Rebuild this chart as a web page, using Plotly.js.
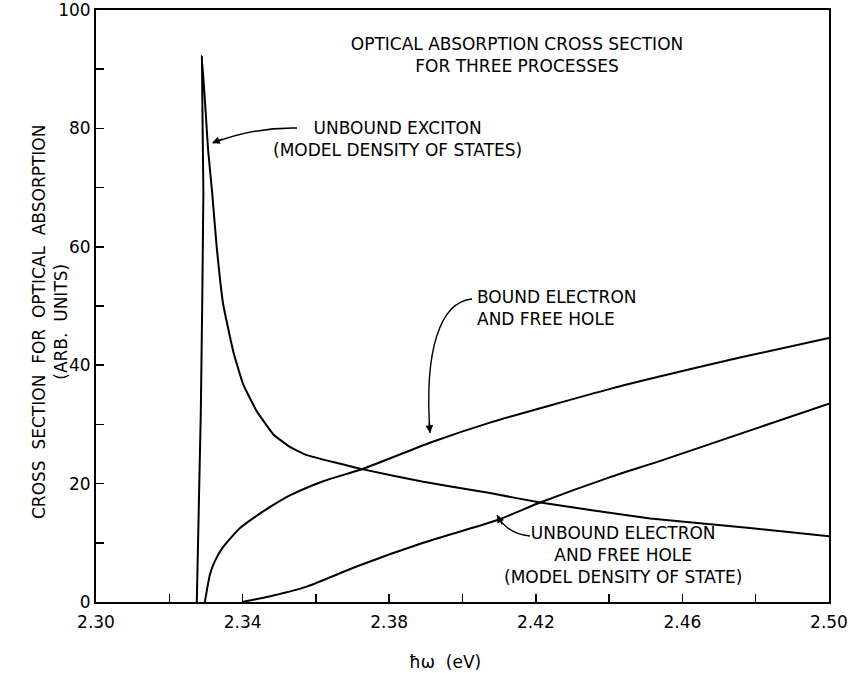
<!DOCTYPE html>
<html>
<head>
<meta charset="utf-8">
<script src="https://cdn.plot.ly/plotly-3.0.1.min.js"></script>
<style>html,body{margin:0;padding:0;background:#fff;}#chart{width:852px;height:673px;}</style>
</head>
<body>
<div id="chart"></div>
<script>
// ---- data ----
const excitonX = [2.3275, 2.3286, 2.3293, 2.3289, 2.3306, 2.3317, 2.3329, 2.3347, 2.3375, 2.3402, 2.3439, 2.3484, 2.3529, 2.3575, 2.3729, 2.3893, 2.4075, 2.4212, 2.4512, 2.4784, 2.5000];
const excitonY = [0, 32.2, 69.1, 92.2, 76.3, 69.1, 60.2, 50.3, 42.2, 36.7, 32.2, 28.3, 26.2, 24.8, 22.4, 20.3, 18.4, 16.8, 14.1, 12.5, 11.1];

const boundX = [2.3297, 2.3302, 2.3311, 2.3325, 2.3347, 2.3393, 2.3439, 2.3484, 2.3529, 2.3620, 2.3729, 2.3911, 2.4075, 2.4403, 2.4512, 2.4757, 2.5000];
const boundY = [0, 1.8, 4.7, 7.0, 9.3, 12.5, 14.6, 16.4, 18.0, 20.4, 22.5, 26.9, 30.3, 36.0, 37.7, 41.3, 44.6];

const unboundX = [2.3398, 2.3439, 2.3484, 2.3575, 2.3711, 2.3893, 2.4093, 2.4212, 2.4403, 2.4548, 2.5000];
const unboundY = [0, 0.5, 1.1, 2.6, 6.0, 10.0, 13.8, 16.8, 21.1, 24.0, 33.5];

const xTickVals = [2.30, 2.34, 2.38, 2.42, 2.46, 2.50];
const xTickText = ['2.30', '2.34', '2.38', '2.42', '2.46', '2.50'];
const yTickVals = [0, 20, 40, 60, 80, 100];

const titleText = 'OPTICAL ABSORPTION CROSS SECTION<br>FOR THREE PROCESSES';
const yTitleText = 'CROSS\u00a0 SECTION\u00a0 FOR\u00a0 OPTICAL\u00a0 ABSORPTION<br>(ARB.\u00a0 UNITS)';
const xTitleText = 'ħω\u00a0 (eV)';
const label1 = 'UNBOUND EXCITON<br>(MODEL DENSITY OF STATES)';
const label2 = 'BOUND ELECTRON<br>AND FREE HOLE';
const label3 = 'UNBOUND ELECTRON<br>AND FREE HOLE<br>(MODEL DENSITY OF STATE)';

// ---- layout geometry ----
const W = 852, H = 673;
const M = {l: 96, r: 23, t: 10, b: 71};
const XR = [2.30, 2.50], YR = [0, 100];
const pw = W - M.l - M.r, ph = H - M.t - M.b;
const X = px => XR[0] + (px - M.l) / pw * (XR[1] - XR[0]);
const Y = py => YR[0] + (H - M.b - py) / ph * (YR[1] - YR[0]);
const P = (px, py) => X(px) + ',' + Y(py);

const FONT = 'DejaVu Sans, Arial, sans-serif';
const line = {color: '#000', width: 2};

const traces = [
  {x: excitonX, y: excitonY, mode: 'lines', line: Object.assign({shape: 'spline', smoothing: 0.35}, line), name: 'Unbound exciton'},
  {x: boundX, y: boundY, mode: 'lines', line: Object.assign({shape: 'spline', smoothing: 0.6}, line), name: 'Bound electron and free hole'},
  {x: unboundX, y: unboundY, mode: 'lines', line: Object.assign({shape: 'spline', smoothing: 0.6}, line), name: 'Unbound electron and free hole'}
];

const tf = {family: FONT, size: 17, color: '#000'};
const arrowStyle = {showarrow: true, arrowhead: 2, arrowsize: 1.1, arrowwidth: 1.4, arrowcolor: '#000', standoff: 0, text: ''};

const layout = {
  width: W, height: H,
  margin: M,
  paper_bgcolor: '#fff', plot_bgcolor: '#fff',
  showlegend: false,
  font: tf,
  title: {
    text: titleText, font: {family: FONT, size: 17, color: '#000'},
    xref: 'paper', x: (517 - M.l) / pw, xanchor: 'center',
    yref: 'container', y: 1 - 50 / H, yanchor: 'middle'
  },
  xaxis: {
    range: XR, showgrid: false, zeroline: false,
    showline: true, linecolor: '#000', linewidth: 2, mirror: true,
    tickvals: xTickVals, ticktext: xTickText,
    ticks: 'inside', ticklen: 8, tickwidth: 1.5, tickcolor: '#000',
    minor: {dtick: 0.02, tick0: 2.30, ticks: 'inside', ticklen: 8, tickwidth: 1.5, tickcolor: '#000', showgrid: false},
    tickfont: tf, ticklabeloverflow: 'allow', ticklabelstandoff: 4
  },
  yaxis: {
    range: YR, showgrid: false, zeroline: false,
    showline: true, linecolor: '#000', linewidth: 2, mirror: true,
    tickvals: yTickVals,
    ticks: 'inside', ticklen: 8, tickwidth: 1.5, tickcolor: '#000',
    minor: {dtick: 10, tick0: 0, ticks: 'inside', ticklen: 8, tickwidth: 1.5, tickcolor: '#000', showgrid: false},
    tickfont: tf, ticklabeloverflow: 'allow'
  },
  annotations: [
    {text: yTitleText, xref: 'paper', yref: 'paper', x: (50 - M.l) / pw, y: (H - M.b - 322) / ph,
     xanchor: 'center', yanchor: 'middle', textangle: -90, showarrow: false, font: tf},
    {text: xTitleText, xref: 'paper', yref: 'paper', x: (445 - M.l) / pw, y: (H - M.b - 662) / ph,
     xanchor: 'center', yanchor: 'middle', showarrow: false, font: tf},
    {text: label1, xref: 'x', yref: 'y', x: X(397), y: Y(139), xanchor: 'center', yanchor: 'middle', align: 'center', showarrow: false, font: tf},
    {text: label2, xref: 'x', yref: 'y', x: X(475), y: Y(308), xanchor: 'left', yanchor: 'middle', align: 'left', showarrow: false, font: tf},
    {text: label3, xref: 'x', yref: 'y', x: X(623), y: Y(555), xanchor: 'center', yanchor: 'middle', align: 'center', showarrow: false, font: tf},
    Object.assign({xref: 'x', yref: 'y', x: X(212), y: Y(143), ax: 12, ay: -4.6}, arrowStyle),
    Object.assign({xref: 'x', yref: 'y', x: X(430), y: Y(433), ax: -1, ay: -12}, arrowStyle),
    Object.assign({xref: 'x', yref: 'y', x: X(497), y: Y(515), ax: 6, ay: 11}, arrowStyle)
  ],
  shapes: [
    {type: 'path', xref: 'x', yref: 'y', line: {color: '#000', width: 1.4},
     path: 'M' + P(297, 128) + ' Q' + P(255, 127) + ' ' + P(213, 143)},
    {type: 'path', xref: 'x', yref: 'y', line: {color: '#000', width: 1.4},
     path: 'M' + P(472, 299) + ' C' + P(440, 302) + ' ' + P(424, 350) + ' ' + P(430, 433)},
    {type: 'path', xref: 'x', yref: 'y', line: {color: '#000', width: 1.4},
     path: 'M' + P(530, 536) + ' Q' + P(507, 534) + ' ' + P(497, 515)}
  ]
};

Plotly.newPlot('chart', traces, layout, {displayModeBar: false, staticPlot: true});
</script>
</body>
</html>
